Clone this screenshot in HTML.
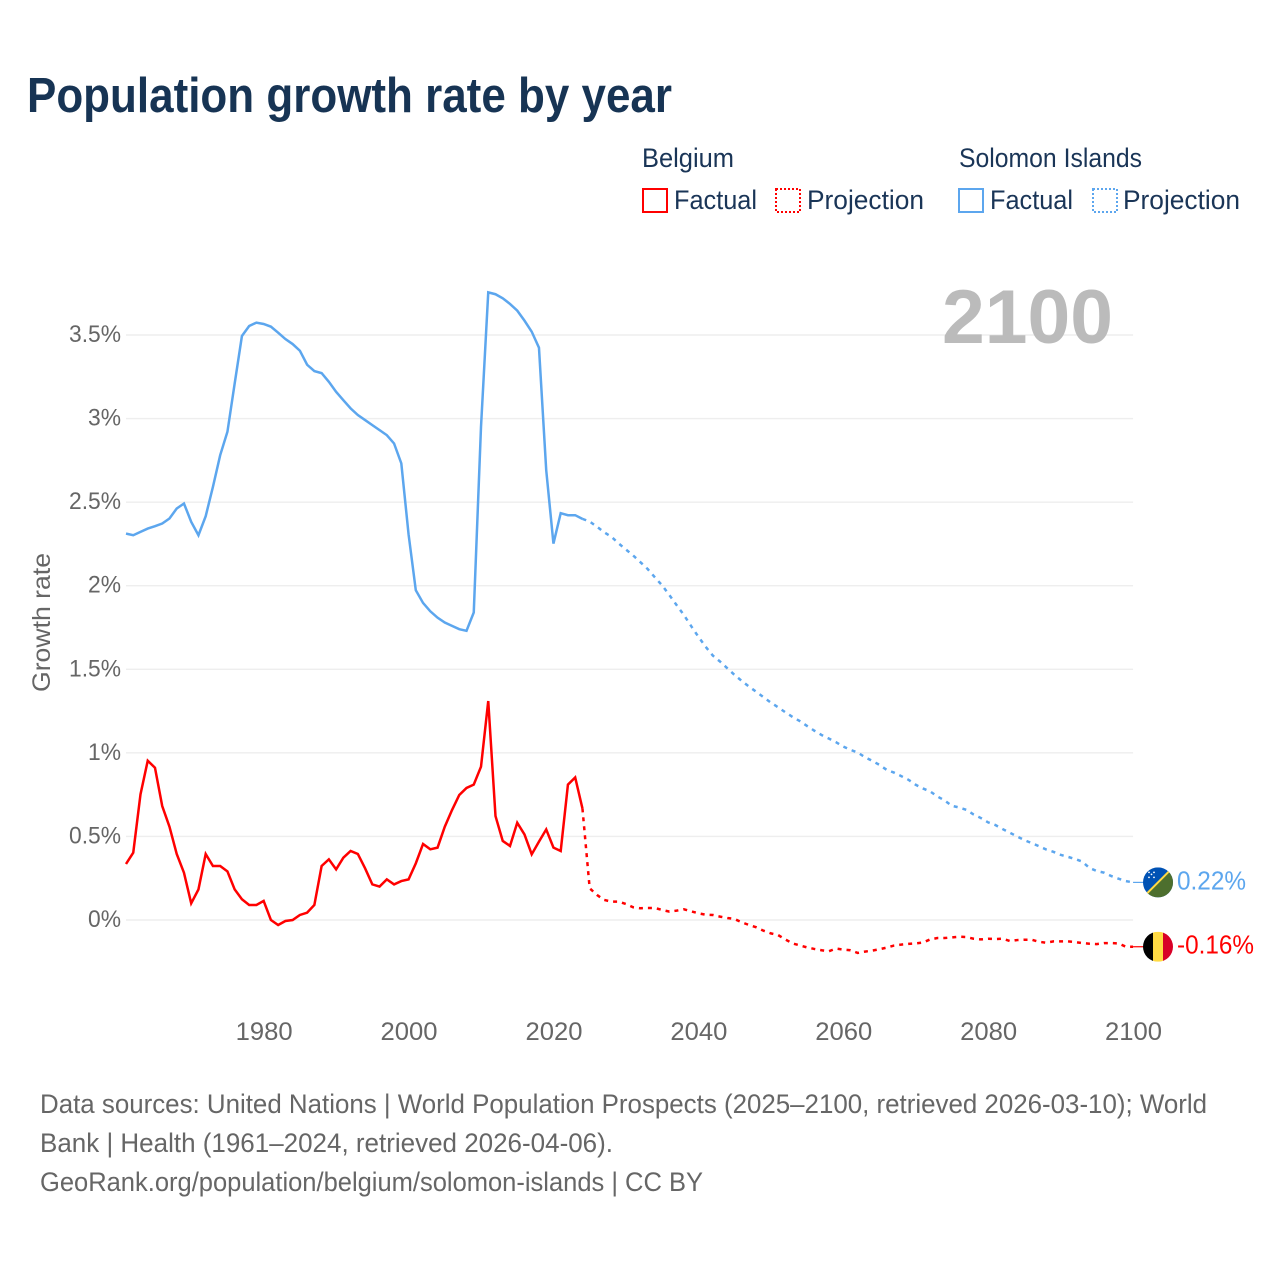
<!DOCTYPE html>
<html lang="en">
<head>
<meta charset="utf-8">
<title>Population growth rate by year</title>
<style>
html,body{margin:0;padding:0;background:#fff;width:1280px;height:1280px;overflow:hidden}
svg{display:block;font-family:"Liberation Sans",sans-serif}
</style>
</head>
<body>
<svg id="chart" xmlns="http://www.w3.org/2000/svg" width="1280" height="1280" viewBox="0 0 1280 1280">
  <rect width="1280" height="1280" fill="#fff"/>
  <text x="27" y="112" font-size="49" font-weight="700" fill="#173454" textLength="645" lengthAdjust="spacingAndGlyphs">Population growth rate by year</text>

  <g font-size="27" fill="#1a3557">
    <text x="642" y="167" textLength="92" lengthAdjust="spacingAndGlyphs">Belgium</text>
    <rect x="643" y="189" width="24" height="23" fill="none" stroke="#ff0000" stroke-width="2"/>
    <text x="674" y="209" textLength="83" lengthAdjust="spacingAndGlyphs">Factual</text>
    <rect x="776" y="189" width="24" height="23" fill="none" stroke="#ff0000" stroke-width="2" stroke-dasharray="2 2"/>
    <text x="807" y="209" textLength="117" lengthAdjust="spacingAndGlyphs">Projection</text>
    <text x="959" y="167" textLength="183" lengthAdjust="spacingAndGlyphs">Solomon Islands</text>
    <rect x="959" y="189" width="24" height="23" fill="none" stroke="#5ca6ee" stroke-width="2"/>
    <text x="990" y="209" textLength="83" lengthAdjust="spacingAndGlyphs">Factual</text>
    <rect x="1093" y="189" width="24" height="23" fill="none" stroke="#5ca6ee" stroke-width="2" stroke-dasharray="2 2"/>
    <text x="1123" y="209" textLength="117" lengthAdjust="spacingAndGlyphs">Projection</text>
  </g>

  <g id="grid"></g>
  <g id="yLabels"></g>
  <g id="xLabels"></g>

  <text transform="translate(50 622.5) rotate(-90)" text-anchor="middle" font-size="25" fill="#666" textLength="139" lengthAdjust="spacingAndGlyphs">Growth rate</text>
  <text x="942" y="343" font-size="76" font-weight="700" fill="#bbbbbb" textLength="171" lengthAdjust="spacingAndGlyphs">2100</text>

  <g id="series"></g>

  <defs>
    <clipPath id="flagClipSolomon"><circle cx="0" cy="0" r="15"/></clipPath>
    <clipPath id="flagClipBelgium"><circle cx="0" cy="0" r="15"/></clipPath>
  </defs>
  <g id="flagSolomon">
    <g clip-path="url(#flagClipSolomon)">
      <rect x="-15" y="-15" width="30" height="30" fill="#0052b4"/>
      <polygon points="15,-15 15,15 -15,15" fill="#4d6f2e"/>
      <line x1="-15" y1="15" x2="15" y2="-15" stroke="#ffda44" stroke-width="2"/>
      <g fill="#ffffff">
        <circle cx="-9" cy="-5" r="0.9"/><circle cx="-4" cy="-5" r="0.9"/><circle cx="-6.5" cy="-8" r="0.9"/><circle cx="-9" cy="-10" r="0.9"/><circle cx="-4" cy="-10" r="0.9"/>
      </g>
    </g>
  </g>
  <g id="flagBelgium">
    <g clip-path="url(#flagClipBelgium)">
      <rect x="-15" y="-15" width="10" height="30" fill="#000000"/>
      <rect x="-5" y="-15" width="10" height="30" fill="#ffda44"/>
      <rect x="5" y="-15" width="10" height="30" fill="#d80027"/>
    </g>
  </g>
  <text id="endSolomon" x="1177" font-size="26" fill="#5ca6ee" textLength="69" lengthAdjust="spacingAndGlyphs"></text>
  <text id="endBelgium" x="1177" font-size="26" fill="#ff0000" textLength="77" lengthAdjust="spacingAndGlyphs"></text>

  <g font-size="27" fill="#666">
    <text x="40" y="1113" textLength="1167" lengthAdjust="spacingAndGlyphs">Data sources: United Nations | World Population Prospects (2025–2100, retrieved 2026-03-10); World</text>
    <text x="40" y="1152" textLength="573" lengthAdjust="spacingAndGlyphs">Bank | Health (1961–2024, retrieved 2026-04-06).</text>
    <text x="40" y="1191" textLength="663" lengthAdjust="spacingAndGlyphs">GeoRank.org/population/belgium/solomon-islands | CC BY</text>
  </g>
</svg>
<script>
const factualStartYear = 1961;
const projectionStartYear = 2024;
const xTickYears = [1980, 2000, 2020, 2040, 2060, 2080, 2100];
const yTickValues = [0, 0.5, 1, 1.5, 2, 2.5, 3, 3.5];
const yTickLabels = ['0%', '0.5%', '1%', '1.5%', '2%', '2.5%', '3%', '3.5%'];

const belgiumFactual = [
  0.335,0.403,0.752,0.953,0.911,0.682,0.558,0.395,0.283,0.10,
  0.183,0.395,0.323,0.323,0.291,0.183,0.124,0.09,0.09,0.114,
  0.0,-0.03,-0.006,0.0,0.03,0.044,0.09,0.323,0.363,0.303,
  0.373,0.413,0.395,0.309,0.213,0.2,0.243,0.213,0.233,0.243,
  0.339,0.455,0.423,0.433,0.558,0.658,0.748,0.79,0.81,0.917,
  1.31,0.622,0.473,0.443,0.582,0.512,0.393,0.469,0.542,0.433,
  0.413,0.81,0.853,0.668
];
const belgiumProjection = [
  0.668,0.19,0.15,0.12,0.11,0.11,0.096,0.076,0.07,0.072,0.072,
  0.06,0.05,0.056,0.064,0.052,0.04,0.032,0.03,0.02,0.012,0.006,
  -0.014,-0.03,-0.044,-0.064,-0.08,-0.09,-0.116,-0.14,-0.152,-0.164,
  -0.173,-0.181,-0.187,-0.171,-0.177,-0.181,-0.197,-0.189,-0.183,-0.175,
  -0.165,-0.153,-0.147,-0.143,-0.14,-0.135,-0.116,-0.108,-0.108,-0.104,
  -0.1,-0.102,-0.112,-0.116,-0.112,-0.114,-0.112,-0.126,-0.12,-0.118,
  -0.118,-0.13,-0.136,-0.128,-0.128,-0.128,-0.132,-0.138,-0.142,-0.144,
  -0.138,-0.138,-0.14,-0.16,-0.16
];
const solomonFactual = [
  2.312,2.302,2.322,2.342,2.356,2.372,2.402,2.462,2.492,2.382,
  2.302,2.416,2.592,2.781,2.921,3.21,3.494,3.554,3.574,3.566,
  3.55,3.514,3.476,3.446,3.406,3.322,3.284,3.272,3.22,3.16,
  3.11,3.061,3.021,2.991,2.961,2.931,2.901,2.851,2.732,2.308,
  1.973,1.897,1.847,1.809,1.78,1.76,1.74,1.73,1.84,2.95,
  3.755,3.744,3.72,3.686,3.646,3.586,3.52,3.424,2.692,2.252,
  2.434,2.422,2.422,2.40
];
const solomonProjection = [
  2.40,2.384,2.353,2.32,2.293,2.253,2.217,2.181,2.141,2.10,2.05,
  2.002,1.944,1.884,1.825,1.759,1.695,1.635,1.582,1.546,1.506,1.466,
  1.43,1.396,1.365,1.333,1.301,1.273,1.243,1.215,1.19,1.161,
  1.133,1.107,1.086,1.064,1.038,1.018,1.002,0.974,0.952,0.928,
  0.898,0.882,0.861,0.839,0.809,0.787,0.769,0.739,0.715,0.683,
  0.673,0.659,0.631,0.61,0.584,0.568,0.544,0.522,0.5,0.478,
  0.46,0.442,0.422,0.408,0.39,0.378,0.365,0.349,0.311,0.293,
  0.283,0.263,0.247,0.233,0.225
];
const solomonEndLabel = '0.22%';
const belgiumEndLabel = '-0.16%';

const NS = 'http://www.w3.org/2000/svg';
function xScale(year) { return 126 + 7.245 * (year - 1961); }
function yScale(value) { return 920 - 167.14 * value; }

const gridGroup = document.getElementById('grid');
const yLabelGroup = document.getElementById('yLabels');
const xLabelGroup = document.getElementById('xLabels');
const seriesGroup = document.getElementById('series');

yTickValues.forEach(function (v, i) {
  const gl = document.createElementNS(NS, 'line');
  
  
  gl.setAttribute('x1', xScale(1961));
  gl.setAttribute('x2', xScale(2100));
  gl.setAttribute('y1', yScale(v));
  gl.setAttribute('y2', yScale(v));
  gl.setAttribute('stroke', '#eeeeee');
  gl.setAttribute('stroke-width', '1.4');
  gridGroup.appendChild(gl);

  const t = document.createElementNS(NS, 'text');
  
  
  t.setAttribute('x', 121);
  t.setAttribute('y', yScale(v) + 7);
  t.setAttribute('text-anchor', 'end');
  t.setAttribute('font-size', '24');
  t.setAttribute('fill', '#666');
  t.textContent = yTickLabels[i];
  yLabelGroup.appendChild(t);
  t.setAttribute('textLength', (t.getComputedTextLength() * 0.95).toFixed(1));
  t.setAttribute('lengthAdjust', 'spacingAndGlyphs');
});

xTickYears.forEach(function (yr) {
  const t = document.createElementNS(NS, 'text');
  
  
  t.setAttribute('x', xScale(yr) + 0.5);
  t.setAttribute('y', 1040);
  t.setAttribute('text-anchor', 'middle');
  t.setAttribute('font-size', '25');
  t.setAttribute('fill', '#666');
  t.setAttribute('textLength', '57');
  t.setAttribute('lengthAdjust', 'spacingAndGlyphs');
  t.textContent = String(yr);
  xLabelGroup.appendChild(t);
});

function pointsFor(values, startYear) {
  return values.map(function (v, i) {
    return xScale(startYear + i).toFixed(2) + ',' + yScale(v).toFixed(2);
  }).join(' ');
}

const lineBelgiumProjection = document.createElementNS(NS, 'polyline');


lineBelgiumProjection.setAttribute('points', pointsFor(belgiumProjection, projectionStartYear));
lineBelgiumProjection.setAttribute('fill', 'none');
lineBelgiumProjection.setAttribute('stroke', '#ff0000');
lineBelgiumProjection.setAttribute('stroke-width', '2.5');
lineBelgiumProjection.setAttribute('stroke-dasharray', '4 5');
seriesGroup.appendChild(lineBelgiumProjection);

const lineSolomonProjection = document.createElementNS(NS, 'polyline');


lineSolomonProjection.setAttribute('points', pointsFor(solomonProjection, projectionStartYear));
lineSolomonProjection.setAttribute('fill', 'none');
lineSolomonProjection.setAttribute('stroke', '#5ca6ee');
lineSolomonProjection.setAttribute('stroke-width', '2.5');
lineSolomonProjection.setAttribute('stroke-dasharray', '4 5');
seriesGroup.appendChild(lineSolomonProjection);

const lineBelgiumFactual = document.createElementNS(NS, 'polyline');


lineBelgiumFactual.setAttribute('points', pointsFor(belgiumFactual, factualStartYear));
lineBelgiumFactual.setAttribute('fill', 'none');
lineBelgiumFactual.setAttribute('stroke', '#ff0000');
lineBelgiumFactual.setAttribute('stroke-width', '2.5');
seriesGroup.appendChild(lineBelgiumFactual);

const lineSolomonFactual = document.createElementNS(NS, 'polyline');


lineSolomonFactual.setAttribute('points', pointsFor(solomonFactual, factualStartYear));
lineSolomonFactual.setAttribute('fill', 'none');
lineSolomonFactual.setAttribute('stroke', '#5ca6ee');
lineSolomonFactual.setAttribute('stroke-width', '2.5');
seriesGroup.appendChild(lineSolomonFactual);

const belgiumEndY = yScale(belgiumProjection[belgiumProjection.length - 1]);
const solomonEndY = yScale(solomonProjection[solomonProjection.length - 1]);

const leaderBelgium = document.createElementNS(NS, 'line');


leaderBelgium.setAttribute('x1', xScale(2100));
leaderBelgium.setAttribute('x2', 1145);
leaderBelgium.setAttribute('y1', belgiumEndY);
leaderBelgium.setAttribute('y2', belgiumEndY);
leaderBelgium.setAttribute('stroke', '#ff0000');
leaderBelgium.setAttribute('stroke-width', '1.2');
seriesGroup.appendChild(leaderBelgium);

const leaderSolomon = document.createElementNS(NS, 'line');


leaderSolomon.setAttribute('x1', xScale(2100));
leaderSolomon.setAttribute('x2', 1145);
leaderSolomon.setAttribute('y1', solomonEndY);
leaderSolomon.setAttribute('y2', solomonEndY);
leaderSolomon.setAttribute('stroke', '#5ca6ee');
leaderSolomon.setAttribute('stroke-width', '1.2');
seriesGroup.appendChild(leaderSolomon);

document.getElementById('flagBelgium').setAttribute('transform', 'translate(1158 ' + belgiumEndY.toFixed(2) + ')');
document.getElementById('flagSolomon').setAttribute('transform', 'translate(1158 ' + solomonEndY.toFixed(2) + ')');

const endBelgium = document.getElementById('endBelgium');
endBelgium.setAttribute('y', (belgiumEndY + 7).toFixed(2));
endBelgium.textContent = belgiumEndLabel;
const endSolomon = document.getElementById('endSolomon');
endSolomon.setAttribute('y', (solomonEndY + 7).toFixed(2));
endSolomon.textContent = solomonEndLabel;
</script>
</body>
</html>
